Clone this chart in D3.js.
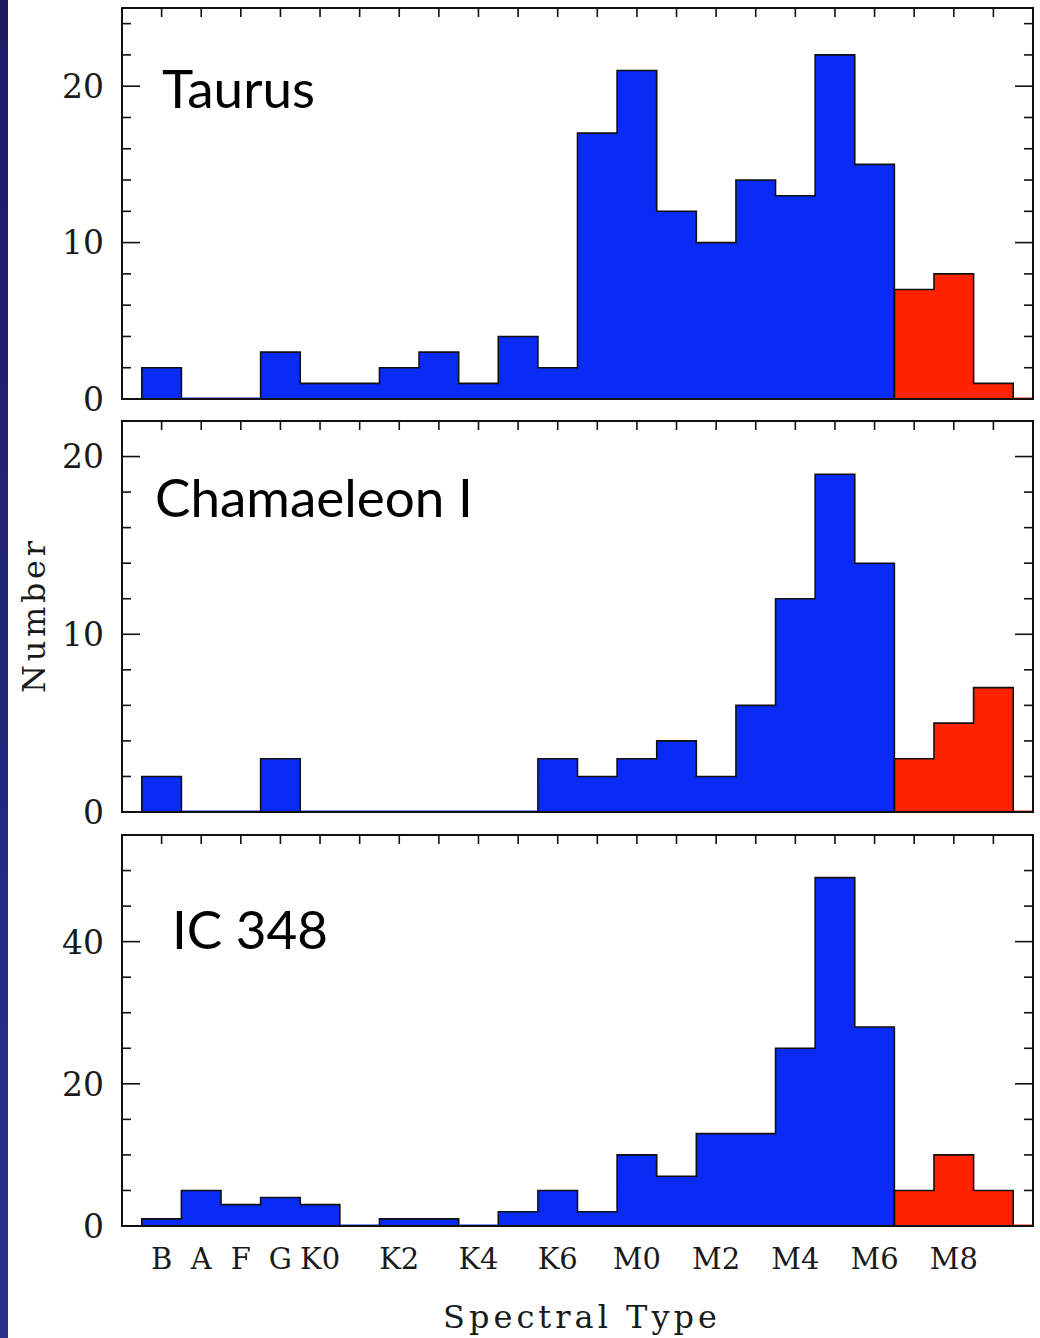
<!DOCTYPE html>
<html>
<head>
<meta charset="utf-8">
<script src="https://cdn.jsdelivr.net/npm/d3@7"></script>
<style>
  body { margin: 0; background: #fff; }
  svg { display: block; }
</style>
</head>
<body>
<div id="chart"></div>
<script>
// spectral type bins (index 22 is the clipped bin past M9)
const spectralTypes = ["B","A","F","G","K0","K1","K2","K3","K4","K5","K6","K7",
                       "M0","M1","M2","M3","M4","M5","M6","M7","M8","M9","L0"];
const tickLabels = ["B","A","F","G","K0","K2","K4","K6","M0","M2","M4","M6","M8"];
const firstLateIndex = 19; // M7 and later drawn in red

const taurusCounts = [2,0,0,3,1,1,2,3,1,4,2,17,21,12,10,14,13,22,15,7,8,1,0];
const chamaeleonCounts = [2,0,0,3,0,0,0,0,0,0,3,2,3,4,2,6,12,19,14,3,5,7,0];
const ic348Counts = [1,5,3,4,3,0,1,1,0,2,5,2,10,7,13,13,25,49,28,5,10,5,0];

const panelNames = ["Taurus", "Chamaeleon I", "IC 348"];
const panelMax = [25, 22, 55];
const panelMajor = [10, 10, 20];
const panelMinor = [2, 2, 5];

const W = 1040, H = 1338;
const svg = d3.select("#chart").append("svg").attr("width", W).attr("height", H);

// dark strip on the left edge
const defs = svg.append("defs");
const grad = defs.append("linearGradient").attr("id", "strip")
  .attr("x1", 0).attr("y1", 0).attr("x2", 0).attr("y2", 1);
grad.append("stop").attr("offset", "0%").attr("stop-color", "#1a1c64");
grad.append("stop").attr("offset", "100%").attr("stop-color", "#2c318e");
svg.append("rect").attr("x", 0).attr("y", 0).attr("width", 8).attr("height", H)
  .attr("fill", "url(#strip)");

const blue = "#0a2af5", red = "#ff2300";
const x = d3.scaleLinear().domain([-1, 22]).range([122, 1033]);
const tops = [8, 421, 835], bottoms = [399, 812, 1226];
const allCounts = [taurusCounts, chamaeleonCounts, ic348Counts];
const titlePos = [[162, 108], [155, 517], [172, 949]];
const tickFont = "'DejaVu Serif', serif";

allCounts.forEach((counts, p) => {
  const y = d3.scaleLinear().domain([0, panelMax[p]]).range([bottoms[p], tops[p]]);
  const g = svg.append("g");
  const clipId = "clip" + p;
  defs.append("clipPath").attr("id", clipId).append("rect")
    .attr("x", x.range()[0]).attr("y", tops[p])
    .attr("width", x.range()[1] - x.range()[0]).attr("height", bottoms[p] - tops[p]);
  const plot = g.append("g").attr("clip-path", `url(#${clipId})`);

  const bins = counts.map((v, i) => ({ i, v, type: spectralTypes[i], late: i >= firstLateIndex }));

  // filled bars
  plot.selectAll("rect.bar").data(bins.filter(d => d.v > 0)).enter().append("rect")
    .attr("class", "bar")
    .attr("x", d => x(d.i - 0.5))
    .attr("width", d => x(d.i + 0.5) - x(d.i - 0.5))
    .attr("y", d => y(d.v))
    .attr("height", d => y(0) - y(d.v))
    .attr("fill", d => d.late ? red : blue)
    .attr("shape-rendering", "crispEdges");

  // step outline for each colour group
  [bins.filter(d => !d.late), bins.filter(d => d.late)].forEach(grp => {
    const pts = [[x(grp[0].i - 0.5), y(0)]];
    grp.forEach(d => {
      pts.push([x(d.i - 0.5), y(d.v)]);
      pts.push([x(d.i + 0.5), y(d.v)]);
    });
    pts.push([x(grp[grp.length - 1].i + 0.5), y(0)]);
    plot.append("path").attr("d", d3.line()(pts))
      .attr("fill", "none").attr("stroke", "#111").attr("stroke-width", 1.6);
  });

  // empty bins shown as a coloured line on the baseline
  plot.selectAll("line.zero").data(bins.filter(d => d.v === 0)).enter().append("line")
    .attr("x1", d => x(d.i - 0.5)).attr("x2", d => x(d.i + 0.5))
    .attr("y1", y(0) - 0.5).attr("y2", y(0) - 0.5)
    .attr("stroke", d => d.late ? red : blue).attr("stroke-width", 2);

  // y ticks (left and right, inward)
  const majors = d3.range(0, panelMax[p] + 0.01, panelMajor[p]);
  const minors = d3.range(0, panelMax[p] + 0.01, panelMinor[p]).filter(v => v % panelMajor[p] !== 0);
  [[x.range()[0], 1], [x.range()[1], -1]].forEach(([x0, dir]) => {
    g.selectAll(null).data(majors.filter(v => v > 0)).enter().append("line")
      .attr("x1", x0).attr("x2", x0 + dir * 18)
      .attr("y1", d => y(d)).attr("y2", d => y(d))
      .attr("stroke", "#111").attr("stroke-width", 1.6);
    g.selectAll(null).data(minors).enter().append("line")
      .attr("x1", x0).attr("x2", x0 + dir * 9)
      .attr("y1", d => y(d)).attr("y2", d => y(d))
      .attr("stroke", "#111").attr("stroke-width", 1.6);
  });

  // x ticks (top, inward)
  const xt = d3.range(0, 22);
  g.selectAll(null).data(xt).enter().append("line")
    .attr("x1", d => x(d)).attr("x2", d => x(d))
    .attr("y1", tops[p]).attr("y2", tops[p] + 9)
    .attr("stroke", "#111").attr("stroke-width", 1.6);

  // frame
  g.append("rect").attr("x", x.range()[0]).attr("y", tops[p])
    .attr("width", x.range()[1] - x.range()[0]).attr("height", bottoms[p] - tops[p])
    .attr("fill", "none").attr("stroke", "#111").attr("stroke-width", 2);

  // y tick labels
  g.selectAll(null).data(majors).enter().append("text")
    .attr("x", 104).attr("y", d => y(d)).attr("dy", "0.36em")
    .attr("text-anchor", "end")
    .attr("font-family", tickFont).attr("font-size", 33).attr("fill", "#1a1a1a")
    .text(d => d);

  // panel title
  g.append("text").attr("x", titlePos[p][0]).attr("y", titlePos[p][1])
    .attr("font-family", "Lato, 'Open Sans', sans-serif").attr("font-size", 53)
    .attr("fill", "#000").text(panelNames[p]);
});

// x tick labels (under bottom panel)
svg.selectAll("text.xl").data(tickLabels).enter().append("text")
  .attr("class", "xl")
  .attr("x", d => x(spectralTypes.indexOf(d)))
  .attr("y", 1269)
  .attr("text-anchor", "middle")
  .attr("font-family", tickFont).attr("font-size", 29).attr("fill", "#1a1a1a")
  .text(d => d);

// axis titles
svg.append("text").attr("x", 580).attr("y", 1328).attr("text-anchor", "middle")
  .attr("font-family", tickFont).attr("font-size", 32).attr("fill", "#1a1a1a")
  .attr("textLength", 274).text("Spectral Type");

svg.append("text").attr("transform", "translate(45,617) rotate(-90)")
  .attr("text-anchor", "middle")
  .attr("font-family", tickFont).attr("font-size", 32).attr("fill", "#1a1a1a")
  .attr("textLength", 152).text("Number");
</script>
</body>
</html>
